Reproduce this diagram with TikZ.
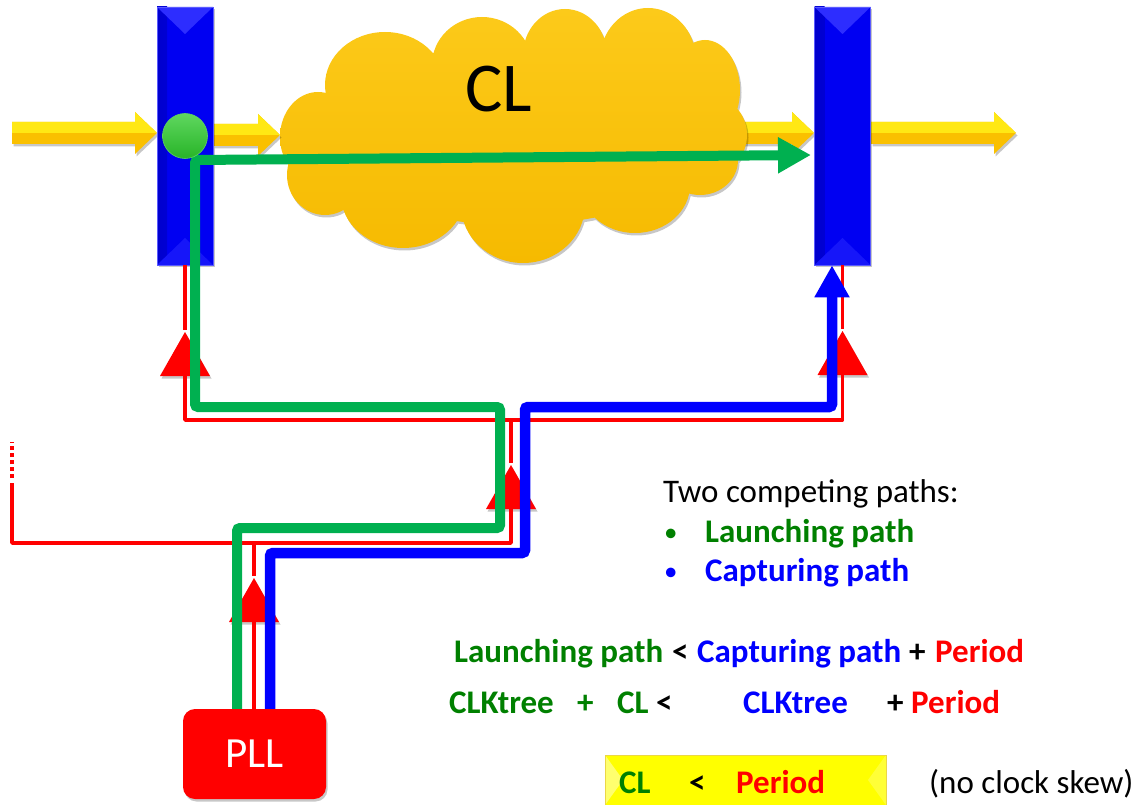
\documentclass[tikz,border=0pt]{standalone}
\usepackage{fontspec}
\setmainfont{Carlito}
\usetikzlibrary{arrows.meta,shadows}

\definecolor{regblue}{RGB}{0,0,242}
\definecolor{regdark}{RGB}{0,0,205}
\definecolor{reglight}{RGB}{45,45,255}
\definecolor{regedge}{RGB}{90,90,255}
\definecolor{busyel}{RGB}{255,232,20}
\definecolor{busdark}{RGB}{250,192,0}
\definecolor{cloudtop}{RGB}{252,202,26}
\definecolor{cloudbot}{RGB}{246,186,0}
\definecolor{launchgreen}{RGB}{0,176,80}
\definecolor{capblue}{RGB}{0,0,255}
\definecolor{clkred}{RGB}{255,0,0}
\definecolor{txtgreen}{RGB}{0,128,0}
\definecolor{dottop}{RGB}{95,215,95}
\definecolor{dotbot}{RGB}{40,180,40}
\definecolor{condyel}{RGB}{255,255,0}
\definecolor{condlight}{RGB}{255,255,110}
\definecolor{condedge}{RGB}{235,215,70}

\begin{document}
\begin{tikzpicture}[x=1pt,y=-1pt,
  softshadow/.style={drop shadow={shadow xshift=1.5pt, shadow yshift=-2.5pt, opacity=0.22, fill=black}},
  reg/.style={minimum width=56, minimum height=258, inner sep=0, fill=regblue,
    draw=regedge, line width=0.6, softshadow,
    path picture={
      \shade[left color=regdark, right color=regblue]
        (path picture bounding box.north west) rectangle ([xshift=10pt]path picture bounding box.south west);
      \fill[reglight] (path picture bounding box.north west) -- (path picture bounding box.north east)
        -- ([yshift=-27pt]path picture bounding box.north) -- cycle;
      \fill[reglight!50!regblue] (path picture bounding box.south west) -- (path picture bounding box.south east)
        -- ([yshift=27pt]path picture bounding box.south) -- cycle;
    }},
  wire/.style={draw=clkred, line width=3.5, line join=round},
  launch/.style={draw=launchgreen, line width=10, rounded corners=3, -{Triangle[length=33pt,width=34pt]}},
  capture/.style={draw=capblue, line width=10.5, rounded corners=3, -{Triangle[length=32pt,width=33pt]}},
  plain/.style={anchor=base west, inner sep=0, font=\fontsize{33}{39}\selectfont},
  bold/.style={anchor=base west, inner sep=0, font=\bfseries\fontsize{33}{39}\selectfont},
  bulletmark/.style={anchor=base west, inner sep=0, font=\fontsize{27}{32}\selectfont},
  buffer/.pic={
    \fill[clkred, softshadow] (-25,0) -- (25,0) -- (0,-44) -- cycle;
    \coordinate (-apex) at (0,-44);
    \coordinate (-base) at (0,0);
  },
  busarrow/.pic={
    \fill[busdark, softshadow] (0,-11) -- (#1-22,-11) -- (#1-22,-21) -- (#1,0)
      -- (#1-22,21) -- (#1-22,11) -- (0,11) -- cycle;
    \fill[busyel] (0,-11) -- (#1-22,-11) -- (#1-22,-21) -- (#1,0) -- (0,0) -- cycle;
  }
]
\useasboundingbox (0,0) rectangle (1141,805);

% data bus entering the capture register, partly hidden by the cloud
\pic at (735,133) {busarrow=79};

% combinational logic cloud: union of overlapping puffs
\shade[top color=cloudtop, bottom color=cloudbot, softshadow]
  (318,137) ellipse [x radius=38, y radius=45]
  (385,85) ellipse [x radius=60, y radius=53]
  (482,65) ellipse [x radius=50, y radius=48]
  (565,55) ellipse [x radius=42, y radius=46]
  (648,60) ellipse [x radius=48, y radius=52]
  (705,90) ellipse [x radius=35, y radius=50]
  (712,135) ellipse [x radius=35, y radius=38]
  (700,160) ellipse [x radius=38, y radius=35]
  (635,185) ellipse [x radius=55, y radius=48]
  (523,205) ellipse [x radius=62, y radius=58]
  (403,195) ellipse [x radius=62, y radius=53]
  (325,175) ellipse [x radius=38, y radius=40]
  (515,135) ellipse [x radius=200, y radius=90];
\node[anchor=base, inner sep=0, font=\fontsize{70}{80}\selectfont] (cl) at (499,112) {CL};

% remaining data bus arrows
\pic at (12,133) {busarrow=145};
\pic at (213,135) {busarrow=67};
\pic at (871,133) {busarrow=145};

% registers
\node[reg] (regA) at (185,136) {};
\node[reg] (regB) at (842.5,136) {};

% clock buffers
\pic (bA) at (185,376) {buffer};
\pic (bB) at (842.5,375) {buffer};
\pic (bM) at (511,509) {buffer};
\pic (bP) at (254,622) {buffer};

% PLL
\node[fill=clkred, rounded corners=12, minimum width=143, minimum height=90, inner sep=0,
  text=white, font=\fontsize{43}{50}\selectfont, softshadow] (pll) at (254.5,754) {PLL};

% clock tree wiring
\coordinate (tapL) at (185,420);
\coordinate (tapR) at (842.5,420);
\coordinate (tapM) at (511,420);
\coordinate (tapP) at (254,543);
\coordinate (leftEnd) at (12,483);
\draw[wire] (regA.south) -- ([yshift=2pt]bA-apex);
\draw[wire] (regB.south) -- ([yshift=2pt]bB-apex);
\draw[wire] (bA-base) -- (tapL) -- (tapR) -- (bB-base);
\draw[wire] (tapM) -- ([yshift=2pt]bM-apex);
\draw[wire] (bM-base) |- (leftEnd |- tapP) -- (leftEnd);
\draw[wire, dash pattern=on 4pt off 3pt] ([yshift=5pt]leftEnd) -- ([yshift=41pt]leftEnd);
\draw[wire] (tapP) -- ([yshift=2pt]bP-apex);
\draw[wire] (bP-base) -- (pll.north -| bP-base);

% launching path
\coordinate (launchCorner) at (195,160);
\coordinate (launchTip) at (811,155);
\draw[launch] ([xshift=-17.5pt]pll.north) |- (500,528) |- (195,407) -- (launchCorner) -- (launchTip);

% capturing path
\draw[capture] ([xshift=15.5pt]pll.north) |- (525,553) |- (832,407) -- ([xshift=-10.5pt]regB.south);

% launch point
\node[circle, minimum size=45, inner sep=0, top color=dottop, bottom color=dotbot,
  draw=dottop, line width=0.6] (launchpt) at (185,136) {};

% legend
\node[plain] (tTwo) at (663,502) {Two competing paths:};
\node[bulletmark, text=txtgreen] (bul1) at (664,541) {•};
\node[bold, text=txtgreen] (tLaunch) at (705,542) {Launching path};
\node[bulletmark, text=capblue] (bul2) at (664,580) {•};
\node[bold, text=capblue] (tCapture) at (705,581) {Capturing path};

% timing inequality
\node[bold, text=txtgreen] (e1a) at (454,662) {Launching path};
\node[bold] (e1b) at (672,662) {<};
\node[bold, text=capblue] (e1c) at (697,662) {Capturing path};
\node[bold] (e1d) at (909,662) {+};
\node[bold, text=clkred] (e1e) at (935,662) {Period};

\node[bold, text=txtgreen] (e2a) at (449,713) {CLKtree};
\node[bold, text=txtgreen] (e2b) at (577,713) {+};
\node[bold, text=txtgreen] (e2c) at (617,713) {CL};
\node[bold] (e2d) at (656,713) {<};
\node[bold, text=capblue] (e2e) at (743,713) {CLKtree};
\node[bold] (e2f) at (887,713) {+};
\node[bold, text=clkred] (e2g) at (911,713) {Period};

% simplified condition
\node[fill=condyel, draw=condedge, line width=0.6, minimum width=281, minimum height=50, inner sep=0,
  path picture={
    \fill[condlight] (path picture bounding box.north west) -- ([xshift=18pt]path picture bounding box.west)
      -- (path picture bounding box.south west) -- cycle;
    \fill[condlight!50!condyel] (path picture bounding box.north east) -- ([xshift=-18pt]path picture bounding box.east)
      -- (path picture bounding box.south east) -- cycle;
  }] (cond) at (745.5,780) {};
\node[bold, text=txtgreen] (c1) at (619,793) {CL};
\node[bold] (c2) at (689,793) {<};
\node[bold, text=clkred] (c3) at (736,793) {Period};
\node[plain] (c4) at (929,793) {(no clock skew)};
\end{tikzpicture}
\end{document}
